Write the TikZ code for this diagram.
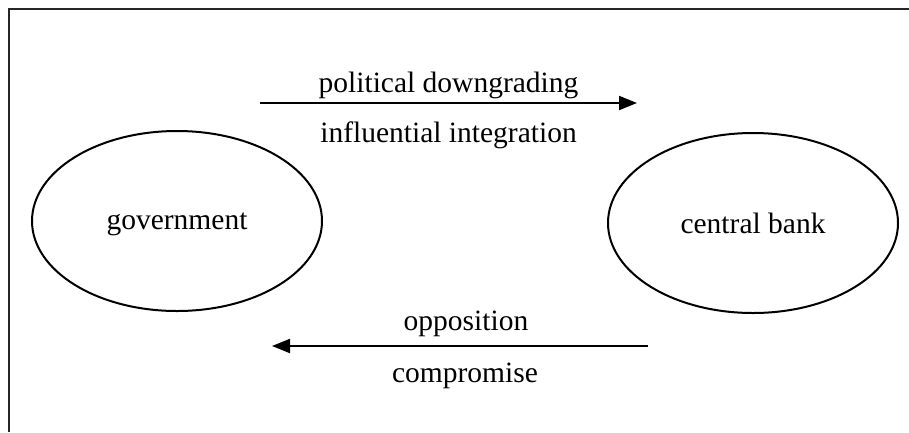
\documentclass[tikz,border=0pt]{standalone}
\usepackage{fontspec}
\setmainfont{Liberation Serif}
\usetikzlibrary{shapes.geometric,arrows.meta,calc}

\tikzset{
  actor/.style={draw,ellipse,line width=2pt,minimum width=290pt,minimum height=180pt,inner sep=0pt,text depth=0pt},
  flow/.style={line width=2pt,-{Triangle[length=18pt,width=14pt]}},
  flowlabel/.style={anchor=base,inner sep=0pt}
}

\begin{document}
\begin{tikzpicture}[x=1pt,y=1pt,font=\fontsize{29.5}{34}\selectfont]

        \useasboundingbox (0,0) rectangle (909,-432);

        % ------------------------------------------------ frame (top and left edges only)
        \draw[line width=2.4pt,black!85] (9,-432) -- (9,-9) -- (909,-9);

        % ------------------------------------------------ the two actors
        \node[actor] (gov)  at (177,-221) {government};
        \node[actor] (bank) at (753,-223) {central bank};

        % ------------------------------------------------ government -> central bank
        \coordinate (topstart) at (260,-103);
        \coordinate (topend)   at (637,-103);
        \draw[flow] (topstart) -- (topend);
        \coordinate (topmid) at ($(topstart)!0.5!(topend)$);
        \node[flowlabel] (down)  at ([yshift=11]topmid)  {political downgrading};
        \node[flowlabel] (integ) at ([yshift=-39]topmid) {influential integration};

        % ------------------------------------------------ central bank -> government
        \coordinate (botstart) at (648,-346);
        \coordinate (botend)   at (272,-346);
        \draw[flow] (botstart) -- (botend);
        \coordinate (botmid) at ($(botstart)!0.5!(botend)$);
        \node[flowlabel] (oppo)  at ([xshift=6,yshift=16]botmid)  {opposition};
        \node[flowlabel] (compr) at ([xshift=5,yshift=-36]botmid) {compromise};

\end{tikzpicture}
\end{document}
